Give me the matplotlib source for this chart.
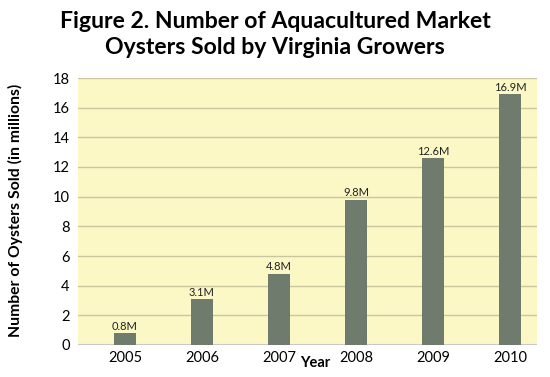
import matplotlib
matplotlib.use('Agg')
import matplotlib.pyplot as plt

years = ['2005', '2006', '2007', '2008', '2009', '2010']
oysters = [0.8, 3.1, 4.8, 9.8, 12.6, 16.9]
bar_labels = ['0.8M', '3.1M', '4.8M', '9.8M', '12.6M', '16.9M']
yticks = [0, 2, 4, 6, 8, 10, 12, 14, 16, 18]

plt.rcParams['font.family'] = ['Lato', 'DejaVu Sans']

fig = plt.figure(figsize=(5.5, 3.77), dpi=100)
ax = fig.add_axes([78/550, 1 - 345/377, (537-78)/550, (345-78)/377])
ax.set_facecolor('#fbf8c6')

x = list(range(len(years)))
ax.bar(x, oysters, width=0.29, color='#6f7c6d', zorder=3)
for xi, v, lab in zip(x, oysters, bar_labels):
    ax.text(xi, v + 0.1, lab, ha='center', va='bottom', fontsize=8, color='#222222', zorder=4)

ax.set_xlim(-0.61, 5.35)
ax.set_ylim(0, 18)
ax.set_yticks(yticks)
ax.set_xticks(x)
ax.set_xticklabels(years, fontsize=10.5)
ax.tick_params(axis='y', labelsize=10.5, length=0, pad=6)
ax.tick_params(axis='x', length=0, pad=4)
ax.grid(axis='y', color='#c9c6a0', linewidth=1.0, zorder=1)
for s in ax.spines.values():
    s.set_visible(False)
ax.axhline(0, color='#c9c9c9', linewidth=1.5, zorder=2)

fig.text(15/550, 1 - 210/377, 'Number of Oysters Sold (in millions)', rotation=90,
         ha='center', va='center', fontsize=11.3, fontweight='bold')
fig.text(315/550, 1 - 363/377, 'Year', ha='center', va='center', fontsize=10.5, fontweight='bold')

fig.text(0.5, 1 - 22/377, 'Figure 2. Number of Aquacultured Market', ha='center', va='center',
         fontsize=16.6, fontweight='bold')
fig.text(0.5, 1 - 48/377, 'Oysters Sold by Virginia Growers', ha='center', va='center',
         fontsize=16.6, fontweight='bold')

fig.savefig('out.png', dpi=100)
